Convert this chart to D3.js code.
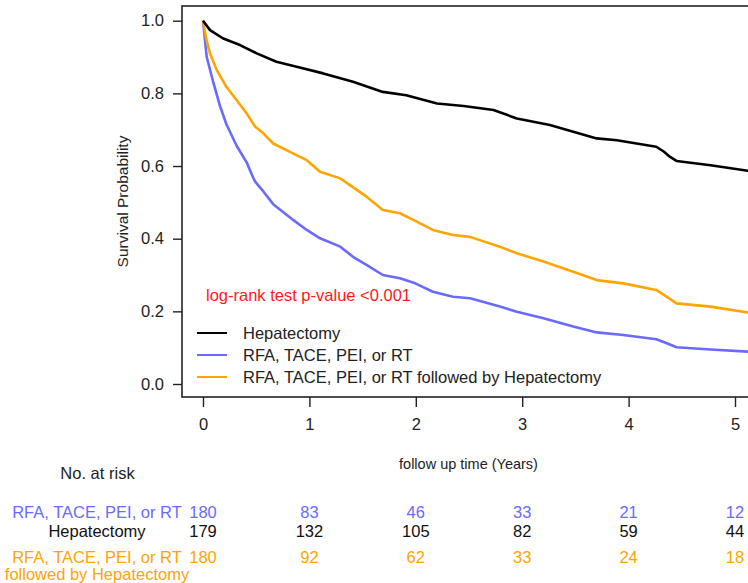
<!DOCTYPE html>
<html>
<head>
<meta charset="utf-8">
<script src="https://cdn.jsdelivr.net/npm/d3@7"></script>
<style>
  html, body { margin: 0; padding: 0; background: #fff; }
  svg { display: block; font-family: "Liberation Sans", Arial, sans-serif; }
</style>
</head>
<body>
<svg id="chart" width="748" height="583"></svg>
<script>
// ---- data ----
const seriesNames = ["Hepatectomy", "RFA, TACE, PEI, or RT", "RFA, TACE, PEI, or RT followed by Hepatectomy"];
const seriesColors = ["#000000", "#6a6aff", "#ffa500"];

const hepTime = [0, 0.066, 0.19, 0.348, 0.505, 0.69, 0.88, 1.13, 1.41, 1.69, 1.91, 2.20, 2.45, 2.73, 2.95, 3.26, 3.48, 3.70, 3.89, 4.26, 4.33, 4.39, 4.45, 4.77, 5.12, 5.25];
const hepSurv = [1.0, 0.974, 0.951, 0.933, 0.910, 0.887, 0.873, 0.855, 0.832, 0.804, 0.795, 0.772, 0.765, 0.754, 0.731, 0.713, 0.694, 0.676, 0.671, 0.653, 0.640, 0.625, 0.614, 0.602, 0.587, 0.582];

const rfaTime = [0, 0.035, 0.097, 0.16, 0.22, 0.317, 0.41, 0.473, 0.49, 0.567, 0.66, 0.85, 0.975, 1.10, 1.29, 1.41, 1.54, 1.69, 1.85, 1.98, 2.16, 2.35, 2.51, 2.79, 2.95, 3.20, 3.48, 3.70, 3.95, 4.26, 4.36, 4.45, 4.77, 5.12, 5.25];
const rfaSurv = [1.0, 0.90, 0.83, 0.765, 0.715, 0.655, 0.61, 0.567, 0.557, 0.53, 0.495, 0.451, 0.424, 0.401, 0.378, 0.350, 0.327, 0.300, 0.291, 0.279, 0.254, 0.240, 0.236, 0.213, 0.199, 0.181, 0.158, 0.142, 0.135, 0.123, 0.112, 0.101, 0.095, 0.089, 0.087];

const combTime = [0, 0.03, 0.066, 0.129, 0.22, 0.317, 0.41, 0.49, 0.567, 0.66, 0.85, 0.975, 1.10, 1.29, 1.54, 1.69, 1.85, 1.98, 2.16, 2.35, 2.51, 2.79, 2.95, 3.20, 3.48, 3.70, 3.95, 4.26, 4.36, 4.45, 4.77, 5.12, 5.25];
const combSurv = [1.0, 0.95, 0.91, 0.864, 0.818, 0.781, 0.745, 0.708, 0.690, 0.662, 0.634, 0.616, 0.584, 0.566, 0.515, 0.479, 0.470, 0.451, 0.424, 0.410, 0.405, 0.378, 0.360, 0.337, 0.309, 0.286, 0.277, 0.259, 0.240, 0.222, 0.213, 0.197, 0.193];

const xTicks = [0, 1, 2, 3, 4, 5];
const yTicks = [0, 0.2, 0.4, 0.6, 0.8, 1.0];

const riskTimes = [0, 1, 2, 3, 4, 5];
const riskRFA  = [180, 83, 46, 33, 21, 12];
const riskHep  = [179, 132, 105, 82, 59, 44];
const riskComb = [180, 92, 62, 33, 24, 18];

// ---- layout ----
const svg = d3.select("#chart");
const x = d3.scaleLinear().domain([0, 5]).range([203, 735]);
const y = d3.scaleLinear().domain([0, 1]).range([384, 20.7]);
const box = { left: 182, top: 6, right: 770, bottom: 397 };

// plot box
svg.append("rect")
  .attr("x", box.left).attr("y", box.top)
  .attr("width", box.right - box.left).attr("height", box.bottom - box.top)
  .attr("fill", "none").attr("stroke", "#222").attr("stroke-width", 1.6);

// y axis
const yAxis = d3.axisLeft(y).tickValues(yTicks).tickFormat(d3.format(".1f")).tickSize(9).tickPadding(9);
const gy = svg.append("g").attr("transform", `translate(${box.left},0)`).call(yAxis);
gy.select(".domain").remove();
gy.selectAll(".tick line").attr("stroke", "#222").attr("stroke-width", 1.4);
gy.selectAll(".tick text").attr("font-size", 16.5).attr("fill", "#222")
  .attr("font-family", "Liberation Sans, Arial, sans-serif");

// x axis
const xAxis = d3.axisBottom(x).tickValues(xTicks).tickFormat(d3.format("d")).tickSize(10).tickPadding(11);
const gx = svg.append("g").attr("transform", `translate(0,${box.bottom})`).call(xAxis);
gx.select(".domain").remove();
gx.selectAll(".tick line").attr("stroke", "#222").attr("stroke-width", 1.4);
gx.selectAll(".tick text").attr("font-size", 16.5).attr("fill", "#222")
  .attr("font-family", "Liberation Sans, Arial, sans-serif");

// y label
svg.append("text")
  .attr("transform", `translate(122,${(box.top + box.bottom) / 2}) rotate(-90)`)
  .attr("text-anchor", "middle")
  .attr("dy", "0.36em")
  .attr("font-size", 15.5).attr("fill", "#222")
  .text("Survival Probability");

// curves
svg.append("clipPath").attr("id", "clip")
  .append("rect").attr("x", box.left).attr("y", box.top)
  .attr("width", box.right - box.left).attr("height", box.bottom - box.top);

const line = d3.line().x(d => x(d[0])).y(d => y(d[1]));
const series = [
  { t: rfaTime, s: rfaSurv, c: seriesColors[1] },
  { t: combTime, s: combSurv, c: seriesColors[2] },
  { t: hepTime, s: hepSurv, c: seriesColors[0] }
];
const gc = svg.append("g").attr("clip-path", "url(#clip)");
series.forEach(sr => {
  gc.append("path")
    .datum(sr.t.map((t, i) => [t, sr.s[i]]))
    .attr("d", line)
    .attr("fill", "none")
    .attr("stroke", sr.c)
    .attr("stroke-width", 2.6)
    .attr("stroke-linejoin", "round");
});

// p-value text
svg.append("text")
  .attr("x", 206).attr("y", 301)
  .attr("font-size", 16.5).attr("fill", "#ff1a1a")
  .text("log-rank test p-value <0.001");

// legend
const legY = [333, 355, 377];
seriesNames.forEach((name, i) => {
  svg.append("line")
    .attr("x1", 197).attr("x2", 227)
    .attr("y1", legY[i]).attr("y2", legY[i])
    .attr("stroke", seriesColors[i]).attr("stroke-width", 2);
  svg.append("text")
    .attr("x", 243).attr("y", legY[i]).attr("dy", "0.36em")
    .attr("font-size", 16.5).attr("fill", "#222")
    .text(name);
});

// x axis title
svg.append("text")
  .attr("x", 468.5).attr("y", 464).attr("dy", "0.36em")
  .attr("text-anchor", "middle")
  .attr("font-size", 14.5).attr("fill", "#222")
  .text("follow up time (Years)");

// risk table
svg.append("text")
  .attr("x", 97.5).attr("y", 473).attr("dy", "0.36em")
  .attr("text-anchor", "middle")
  .attr("font-size", 16.5).attr("fill", "#222")
  .text("No. at risk");

const riskRows = [
  { label: ["RFA, TACE, PEI, or RT"], vals: riskRFA, c: "#6a6aff", y: 512 },
  { label: ["Hepatectomy"], vals: riskHep, c: "#111", y: 531 },
  { label: ["RFA, TACE, PEI, or RT", "followed by Hepatectomy"], vals: riskComb, c: "#ffa500", y: 557 }
];
riskRows.forEach(r => {
  r.label.forEach((l, j) => {
    svg.append("text")
      .attr("x", 97).attr("y", r.y + j * 17).attr("dy", "0.36em")
      .attr("text-anchor", "middle")
      .attr("font-size", 16.5).attr("fill", r.c)
      .text(l);
  });
  r.vals.forEach((v, k) => {
    svg.append("text")
      .attr("x", x(riskTimes[k])).attr("y", r.y).attr("dy", "0.36em")
      .attr("text-anchor", "middle")
      .attr("font-size", 16.5).attr("fill", r.c)
      .text(v);
  });
});
</script>
</body>
</html>
